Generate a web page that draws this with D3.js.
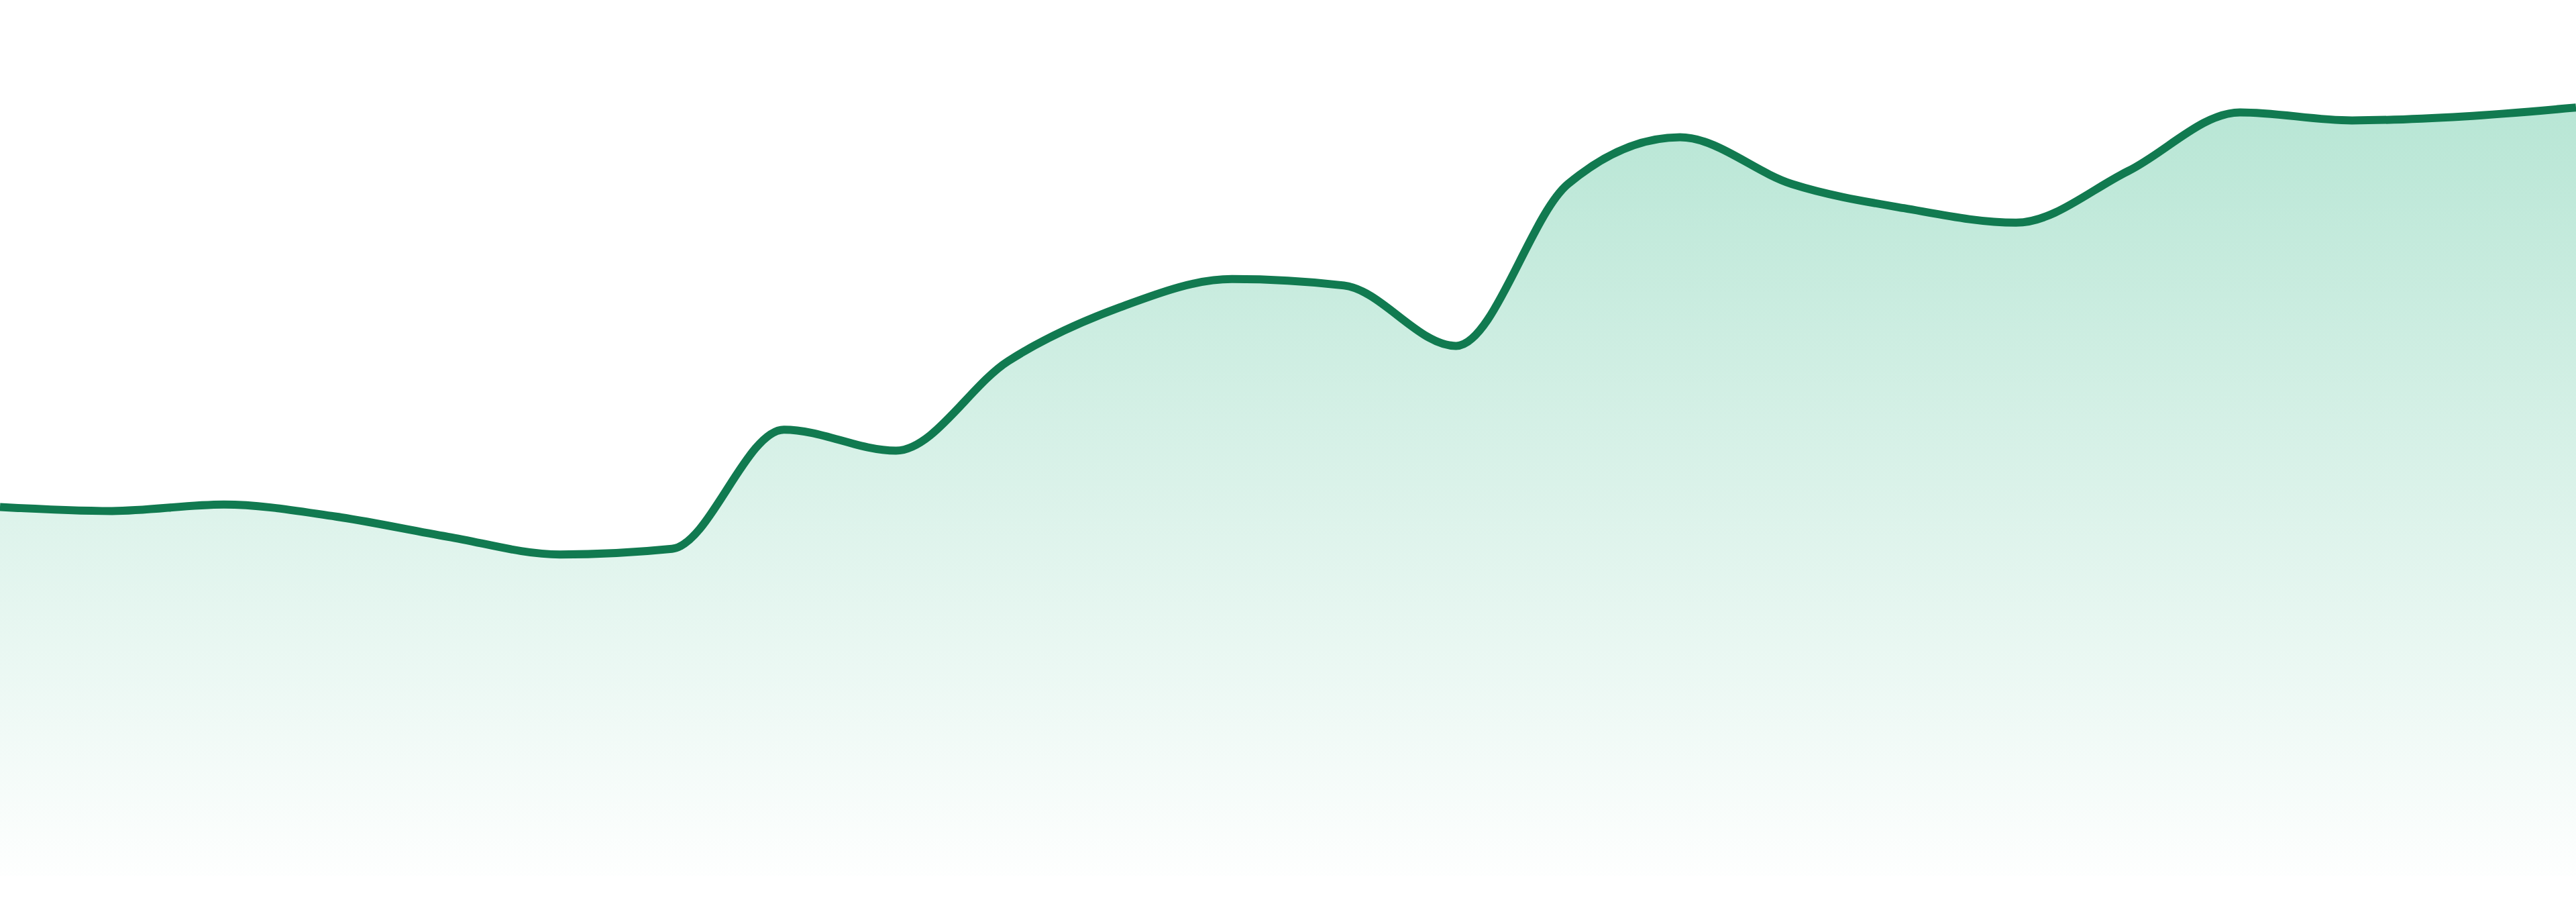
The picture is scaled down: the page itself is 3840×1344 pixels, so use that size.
<!DOCTYPE html>
<html>
<head>
<meta charset="utf-8">
<script src="https://cdn.jsdelivr.net/npm/d3@7"></script>
<style>
  html, body { margin: 0; padding: 0; background: #ffffff; overflow: hidden; }
  #chart { width: 3840px; height: 1344px; }
</style>
</head>
<body>
<div id="chart"></div>
<script>
// --------------------------------------
//  Data
// --------------------------------------

const categories = d3.range(1, 25).map(d => `P${d}`);

const values = [
  45.8, 45.3, 46.1, 44.6, 42.1, 39.9, 40.6, 55.4,
  52.8, 63.9, 70.6, 74.1, 73.3, 65.8, 85.9, 91.7,
  85.9, 82.9, 81.1, 87.5, 94.8, 93.8, 94.3, 95.4
];

const data = categories.map((c, i) => ({ cat: c, value: values[i] }));

// --------------------------------------
//  Canvas
// --------------------------------------

const width = 3840;
const height = 1344;
const baseline = 1305;

const svg = d3.select("#chart")
  .append("svg")
    .attr("width", width)
    .attr("height", height)
    .attr("viewBox", [0, 0, width, height]);

// --------------------------------------
//  Scales
// --------------------------------------

const x = d3.scalePoint()
    .domain(categories)
    .range([0, width]);

const y = d3.scaleLinear()
    .domain([0, 100])
    .range([baseline, 105]);

// --------------------------------------
//  Gradient
// --------------------------------------

const grad = svg.append("defs")
  .append("linearGradient")
    .attr("id", "areaFill")
    .attr("gradientUnits", "userSpaceOnUse")
    .attr("x1", 0).attr("x2", 0)
    .attr("y1", y(d3.max(values)))
    .attr("y2", baseline);

grad.append("stop")
    .attr("offset", "0%")
    .attr("stop-color", "#b8e6d5")
    .attr("stop-opacity", 1);

grad.append("stop")
    .attr("offset", "100%")
    .attr("stop-color", "#b8e6d5")
    .attr("stop-opacity", 0.02);

// --------------------------------------
//  Area and line
// --------------------------------------

const area = d3.area()
    .x(d => x(d.cat))
    .y0(y(0))
    .y1(d => y(d.value))
    .curve(d3.curveMonotoneX);

const line = d3.line()
    .x(d => x(d.cat))
    .y(d => y(d.value))
    .curve(d3.curveMonotoneX);

svg.append("path")
    .datum(data)
    .attr("d", area)
    .attr("fill", "url(#areaFill)");

svg.append("path")
    .datum(data)
    .attr("d", line)
    .attr("fill", "none")
    .attr("stroke", "#117a50")
    .attr("stroke-width", 12);
</script>
</body>
</html>
